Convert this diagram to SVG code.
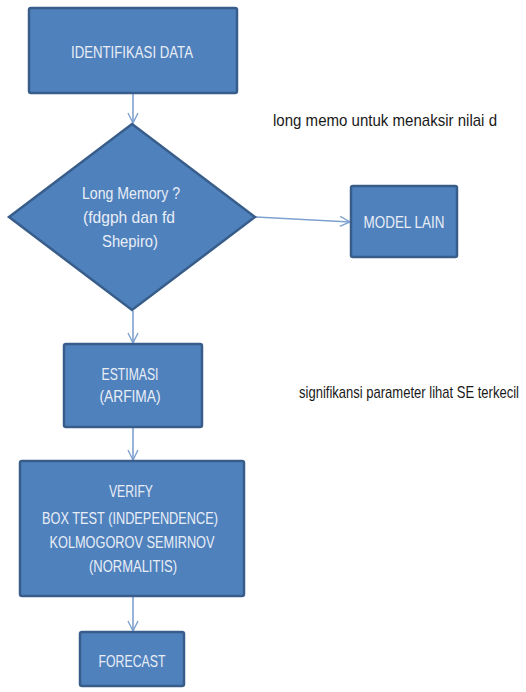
<svg xmlns="http://www.w3.org/2000/svg" width="526" height="692" viewBox="0 0 526 692">
<defs>
<style>
.box{fill:#4F81BD;stroke:#385D8A;stroke-width:2.5}
.bt{font-family:"Liberation Sans",Arial,sans-serif;font-size:17px;fill:#E9EEF6;text-anchor:middle}
.an{font-family:"Liberation Sans",Arial,sans-serif;font-size:17px;fill:#1A1A1A}
.con{stroke:#7FA1CF;stroke-width:1.6;fill:none}
</style>
<marker id="arr" viewBox="0 0 12 12" refX="11" refY="6" markerWidth="12" markerHeight="12" markerUnits="userSpaceOnUse" orient="auto">
<path d="M1,1 L11,6 L1,11" fill="none" stroke="#7FA1CF" stroke-width="1.4"/>
</marker>
</defs>
<rect width="526" height="692" fill="#FFFFFF"/>
<g id="connectors">
<line class="con" x1="133" y1="94" x2="133" y2="123" marker-end="url(#arr)"/>
<line class="con" x1="256" y1="217" x2="350" y2="222" marker-end="url(#arr)"/>
<line class="con" x1="133" y1="311" x2="133" y2="343" marker-end="url(#arr)"/>
<line class="con" x1="133" y1="428" x2="133" y2="460" marker-end="url(#arr)"/>
<line class="con" x1="133" y1="597" x2="133" y2="631" marker-end="url(#arr)"/>
</g>
<g id="identifikasi">
<rect class="box" x="29" y="8" width="208" height="85" rx="2"/>
<text class="bt" x="132" y="58" textLength="122" lengthAdjust="spacingAndGlyphs">IDENTIFIKASI DATA</text>
</g>
<g id="long-memory">
<polygon class="box" points="132,124 255,217 132,310 9,217"/>
<text class="bt" x="131" y="199" textLength="98" lengthAdjust="spacingAndGlyphs">Long Memory ?</text>
<text class="bt" x="129" y="223" textLength="92" lengthAdjust="spacingAndGlyphs">(fdgph dan fd</text>
<text class="bt" x="130" y="247" textLength="56" lengthAdjust="spacingAndGlyphs">Shepiro)</text>
</g>
<g id="model-lain">
<rect class="box" x="351" y="186" width="106" height="71" rx="2"/>
<text class="bt" x="404" y="228" textLength="81" lengthAdjust="spacingAndGlyphs">MODEL LAIN</text>
</g>
<g id="estimasi">
<rect class="box" x="64" y="344" width="138" height="83" rx="2"/>
<text class="bt" x="130" y="380" textLength="57" lengthAdjust="spacingAndGlyphs">ESTIMASI</text>
<text class="bt" x="130" y="402" textLength="61" lengthAdjust="spacingAndGlyphs">(ARFIMA)</text>
</g>
<g id="verify">
<rect class="box" x="20" y="461" width="224" height="135" rx="2"/>
<text class="bt" x="131" y="497" textLength="44" lengthAdjust="spacingAndGlyphs">VERIFY</text>
<text class="bt" x="130" y="524" textLength="176" lengthAdjust="spacingAndGlyphs">BOX TEST  (INDEPENDENCE)</text>
<text class="bt" x="132" y="548" textLength="165" lengthAdjust="spacingAndGlyphs">KOLMOGOROV SEMIRNOV</text>
<text class="bt" x="133" y="572" textLength="88" lengthAdjust="spacingAndGlyphs">(NORMALITIS)</text>
</g>
<g id="forecast">
<rect class="box" x="80" y="632" width="104" height="54" rx="2"/>
<text class="bt" x="132" y="667" textLength="67" lengthAdjust="spacingAndGlyphs">FORECAST</text>
</g>
<g id="annotations">
<text class="an" x="273" y="126" textLength="224" lengthAdjust="spacingAndGlyphs">long memo untuk menaksir nilai d</text>
<text class="an" x="299" y="398" textLength="220" lengthAdjust="spacingAndGlyphs">signifikansi parameter lihat SE terkecil</text>
</g>
</svg>
